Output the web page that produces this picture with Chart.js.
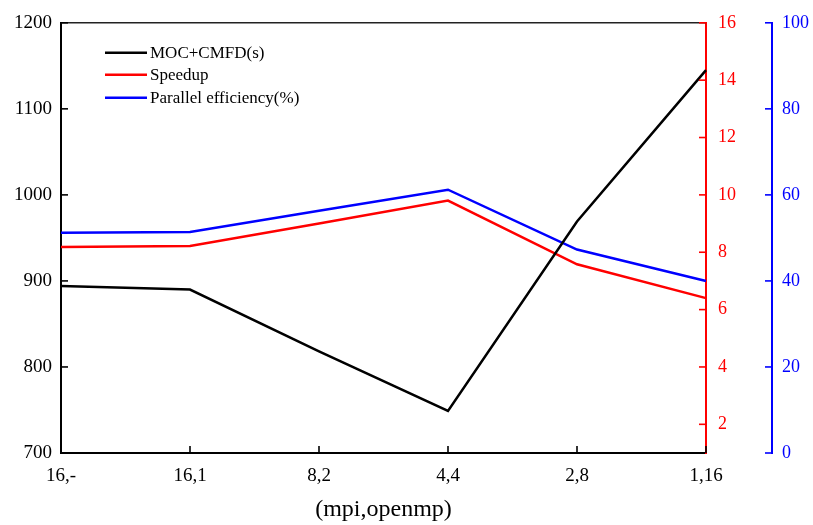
<!DOCTYPE html>
<html>
<head>
<meta charset="utf-8">
<script src="https://cdn.jsdelivr.net/npm/chart.js@4/dist/chart.umd.min.js"></script>
<style>
  html, body { margin: 0; padding: 0; background: #fff; }
  #wrap { width: 813px; height: 525px; }
</style>
</head>
<body>
<div id="wrap"><canvas id="c" width="813" height="525"></canvas></div>
<script>
// (mpi, openmp) configurations
const categories = ['16,-', '16,1', '8,2', '4,4', '2,8', '1,16'];
// MOC+CMFD wall time in seconds (left axis)
const timeSeconds = [894, 890, 818, 749, 969, 1145];
// Speedup (red right axis)
const speedup = [8.18, 8.22, 9.0, 9.8, 7.58, 6.40];
// Parallel efficiency in percent (blue right axis)
const efficiency = [51.2, 51.4, 56.3, 61.2, 47.3, 40.0];

// axis tick values
const leftTicks = [700, 800, 900, 1000, 1100, 1200];
const speedupTicks = [2, 4, 6, 8, 10, 12, 14, 16];
const efficiencyTicks = [0, 20, 40, 60, 80, 100];

const seriesLabels = ['MOC+CMFD(s)', 'Speedup', 'Parallel efficiency(%)'];
const BLACK = '#000000', RED = '#ff0000', BLUE = '#0000ff';
const SERIF = "'Liberation Serif', 'Times New Roman', serif";

function setTicks(values) {
  return function (scale) { scale.ticks = values.map(v => ({ value: v })); };
}
const plainNumber = v => String(v);

// short tick marks pointing into the plot, plus the top frame line
const inwardTicks = {
  id: 'inwardTicks',
  afterDraw(chart) {
    const ctx = chart.ctx;
    const { x, y, y1, y2 } = chart.scales;
    const L = 7;
    const seg = (a, b, c, d) => { ctx.beginPath(); ctx.moveTo(a, b); ctx.lineTo(c, d); ctx.stroke(); };
    ctx.save();
    ctx.lineWidth = 1.6;
    ctx.strokeStyle = '#222';
    const ca = chart.chartArea;
    seg(ca.left, ca.top, ca.right, ca.top);
    ctx.strokeStyle = BLACK;
    y.ticks.forEach(t => { const p = y.getPixelForValue(t.value); seg(y.right, p, y.right + L, p); });
    x.ticks.forEach((t, i) => { const p = x.getPixelForTick(i); seg(p, x.top, p, x.top - L); });
    ctx.strokeStyle = RED;
    y1.ticks.forEach(t => { const p = y1.getPixelForValue(t.value); seg(y1.left, p, y1.left - L, p); });
    ctx.strokeStyle = BLUE;
    y2.ticks.forEach(t => { const p = y2.getPixelForValue(t.value); seg(y2.left, p, y2.left - L, p); });
    ctx.restore();
  }
};

// legend box inside the plot area, built from the datasets
const innerLegend = {
  id: 'innerLegend',
  afterDraw(chart) {
    const ctx = chart.ctx;
    const ca = chart.chartArea;
    const rows = [30, 52, 75];
    ctx.save();
    ctx.font = '17px ' + SERIF;
    ctx.textBaseline = 'middle';
    ctx.textAlign = 'left';
    chart.data.datasets.forEach((ds, i) => {
      const yy = ca.top + rows[i];
      ctx.strokeStyle = ds.borderColor;
      ctx.lineWidth = 2.5;
      ctx.beginPath();
      ctx.moveTo(ca.left + 44, yy);
      ctx.lineTo(ca.left + 86, yy);
      ctx.stroke();
      ctx.fillStyle = '#000';
      ctx.fillText(ds.label, ca.left + 89, yy + 1);
    });
    ctx.restore();
  }
};

new Chart(document.getElementById('c'), {
  type: 'line',
  data: {
    labels: categories,
    datasets: [
      { label: seriesLabels[0], data: timeSeconds, yAxisID: 'y', borderColor: BLACK, borderWidth: 2.5, pointRadius: 0, tension: 0 },
      { label: seriesLabels[1], data: speedup, yAxisID: 'y1', borderColor: RED, borderWidth: 2.5, pointRadius: 0, tension: 0 },
      { label: seriesLabels[2], data: efficiency, yAxisID: 'y2', borderColor: BLUE, borderWidth: 2.5, pointRadius: 0, tension: 0 }
    ]
  },
  options: {
    responsive: false,
    animation: false,
    devicePixelRatio: 1,
    layout: { padding: { top: 20, left: 0, right: 0, bottom: 0 } },
    plugins: { legend: { display: false }, tooltip: { enabled: false } },
    scales: {
      x: {
        type: 'category',
        offset: false,
        grid: { display: false, drawTicks: false },
        border: { display: true, color: BLACK, width: 2 },
        ticks: { color: '#000', font: { family: SERIF, size: 19 }, padding: 12, maxRotation: 0, autoSkip: false },
        title: { display: true, text: '(mpi,openmp)', color: '#000', font: { family: SERIF, size: 24 }, padding: { top: 1, bottom: 1 } },
        afterFit(s) { s.height = 72; }
      },
      y: {
        position: 'left',
        min: 700, max: 1200,
        afterBuildTicks: setTicks(leftTicks),
        grid: { display: false, drawTicks: false },
        border: { display: true, color: BLACK, width: 2 },
        ticks: { color: '#000', font: { family: SERIF, size: 19 }, padding: 9, callback: plainNumber },
        afterFit(s) { s.width = 61; }
      },
      y1: {
        position: 'right',
        weight: 0,
        min: 1, max: 16,
        afterBuildTicks: setTicks(speedupTicks),
        grid: { display: false, drawTicks: false },
        border: { display: true, color: RED, width: 2 },
        ticks: { color: RED, font: { family: SERIF, size: 18 }, padding: 12, callback: plainNumber },
        afterFit(s) { s.width = 66; }
      },
      y2: {
        position: 'right',
        weight: 1,
        min: 0, max: 100,
        afterBuildTicks: setTicks(efficiencyTicks),
        grid: { display: false, drawTicks: false },
        border: { display: true, color: BLUE, width: 2 },
        ticks: { color: BLUE, font: { family: SERIF, size: 18 }, padding: 10, callback: plainNumber },
        afterFit(s) { s.width = 41; }
      }
    }
  },
  plugins: [inwardTicks, innerLegend]
});
</script>
</body>
</html>
